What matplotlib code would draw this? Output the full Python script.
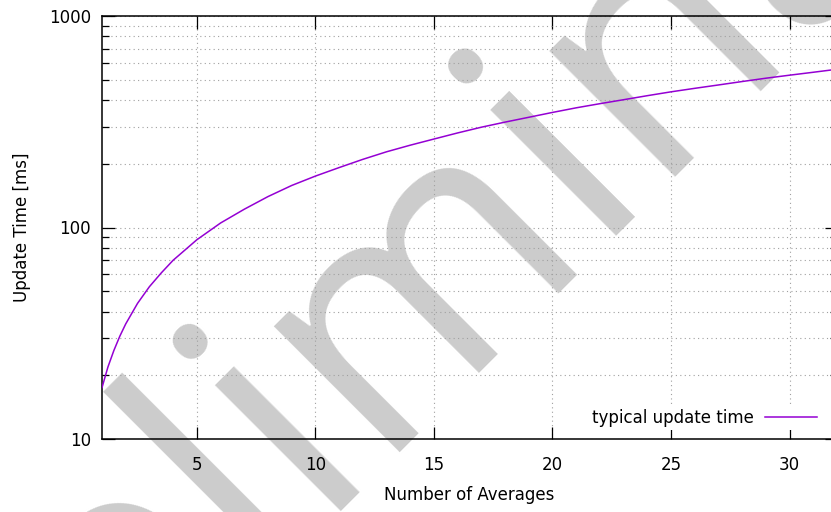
import matplotlib
matplotlib.use('Agg')
import matplotlib.pyplot as plt
from matplotlib.ticker import LogLocator, NullFormatter, FixedLocator

# data
avg_n = [1, 1.25, 1.5, 1.75, 2, 2.5, 3, 3.5, 4, 5, 6, 7, 8, 9, 10, 11, 12, 13, 14, 15, 16,
         17, 18, 19, 20, 21, 22, 23, 24, 25, 26, 27, 28, 29, 30, 31, 32]
update_ms = [17.5, 21.9, 26.2, 30.6, 35, 43.8, 52.5, 61, 70, 87.5, 105, 122, 140, 158, 175,
             192, 210, 228, 245, 262, 280, 298, 315, 332, 350, 368, 385, 402, 420, 438, 455,
             472, 490, 508, 525, 542, 560]
x_ticks = [5, 10, 15, 20, 25, 30]
y_ticks = [10, 100, 1000]
series_label = 'typical update time'
watermark = 'preliminary'

plt.rcParams['font.family'] = ['DejaVu Sans']
plt.rcParams['font.size'] = 12

W, H = 831, 512
fig = plt.figure(figsize=(W / 100, H / 100), dpi=100)
ax = fig.add_axes([102 / W, 1 - 439 / H, 735 / W, 423 / H])
ax.set_facecolor('none')

ax.plot(avg_n, update_ms, color='#9400d3', lw=1.1, label=series_label, zorder=3)

ax.set_yscale('log')
ax.set_xlim(1, 32)
ax.set_ylim(10, 1000)
ax.xaxis.set_major_locator(FixedLocator(x_ticks))
ax.yaxis.set_major_locator(FixedLocator(y_ticks))
ax.set_yticklabels([str(v) for v in y_ticks])
ax.yaxis.set_minor_locator(LogLocator(base=10, subs=range(2, 10)))
ax.yaxis.set_minor_formatter(NullFormatter())

ax.tick_params(which='both', direction='in', top=True, right=True, width=0.9, color='black')
ax.tick_params(which='major', length=9)
ax.tick_params(which='minor', length=5)
ax.tick_params(axis='x', which='major', pad=12)
ax.tick_params(axis='y', which='major', pad=8)
ax.grid(True, which='both', axis='y', ls=(0, (1, 3)), color='#a0a0a0', lw=0.8)
ax.grid(True, which='major', axis='x', ls=(0, (1, 3)), color='#a0a0a0', lw=0.8)
for s in ax.spines.values():
    s.set_linewidth(1.1)

ax.set_xlabel('Number of Averages', labelpad=9)
ax.set_ylabel('Update Time [ms]', labelpad=13)

# big grey watermark behind the curve
ax.text(509 / W, 1 - 315 / H, watermark, transform=fig.transFigure, rotation=45,
        rotation_mode='anchor', ha='center', va='baseline', fontsize=238,
        family='Open Sans', color='#cccccc', zorder=1, clip_on=False)

leg = ax.legend(loc='lower right', bbox_to_anchor=(828 / W, 1 - 438 / H),
                bbox_transform=fig.transFigure, markerfirst=False, handlelength=3.1,
                borderpad=0.15, fancybox=False, framealpha=1, edgecolor='none',
                handletextpad=0.7)
leg.set_zorder(4)

fig.savefig('out.png', dpi=100)
